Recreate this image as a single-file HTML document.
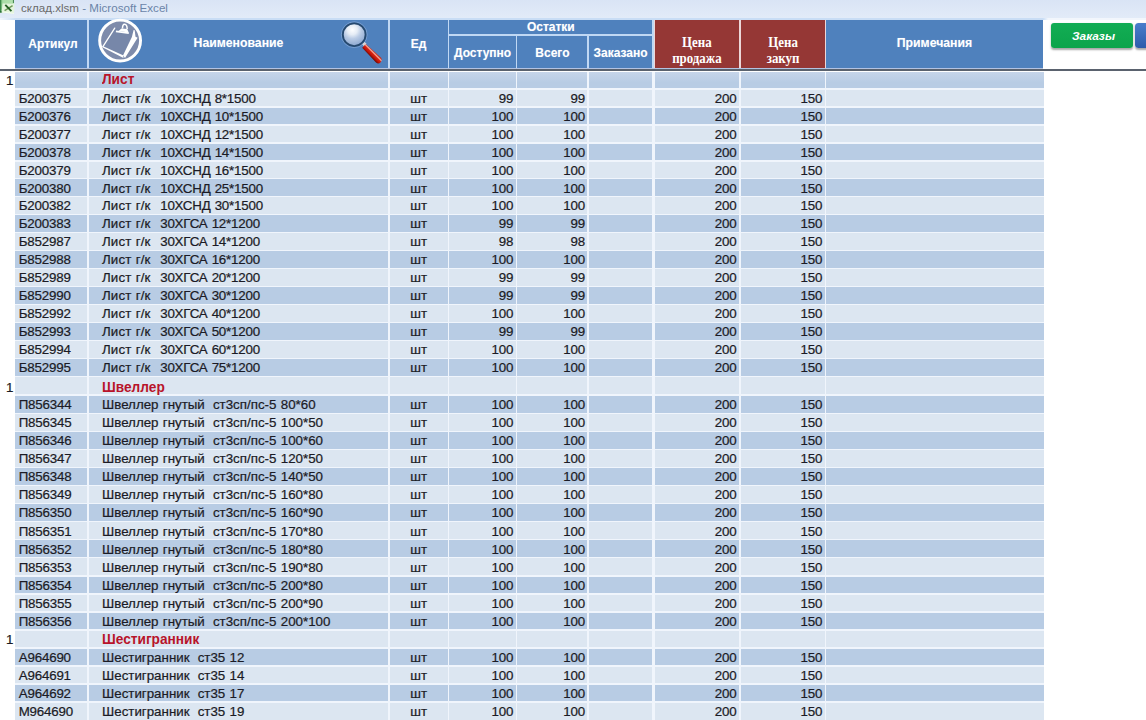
<!DOCTYPE html>
<html lang="ru"><head><meta charset="utf-8"><title>склад.xlsm - Microsoft Excel</title>
<style>
html,body{margin:0;padding:0;}
body{width:1146px;height:720px;overflow:hidden;background:#fff;position:relative;font-family:"Liberation Sans",sans-serif;}
.abs{position:absolute;}
#tb{left:0;top:0;width:1146px;height:17.5px;background:linear-gradient(#d9e4f5,#e2ebf8);}
#tbl{left:0;top:17.5px;width:1146px;height:2px;background:linear-gradient(90deg,#f4f8fd 0,#c9ddf5 16px,#c9ddf5 1043px,#f2f6fc 1048px);}
#title{left:21px;top:0;height:17px;line-height:16px;font-size:11.6px;color:#6a6a6a;white-space:pre;}
#title span{color:#6b84a8;}
.hc{background:#4f81bd;color:#fff;font-weight:bold;font-size:12px;text-align:center;text-shadow:0 0 1px rgba(255,255,255,.35);}
.hc span,.hr span{display:inline-block;transform:scaleY(1.09);}
.hr span{display:block;transform:scale(.97,1.08);transform-origin:50% 72%;}
#hbr{left:653.6px;top:19.5px;width:172.6px;height:48.5px;background:#ecd6d8;}
.hr{background:#953735;color:#fff;font-weight:bold;font-family:"Liberation Serif",serif;font-size:13.3px;text-align:center;line-height:15.2px;}
#hbg{left:15.3px;top:19.5px;width:1027.5px;height:48.5px;background:#c0d8f4;}
#dark{left:0;top:68.8px;width:1146px;height:1.9px;background:#5a626e;}
#band{left:15.3px;top:67.6px;width:1027.5px;height:1.3px;background:#b3c3e2;}
#grid{left:15.3px;top:72px;width:1028.4px;height:648px;background:#f0f5fc;}
.c{position:absolute;height:16.2px;}
.d{background:#b8cce4;}
.l{background:#dce6f1;}
.r0{background:linear-gradient(#c6d5ea,#b8cce4 65%);}
.t{position:absolute;height:18px;line-height:18px;font-size:13.33px;color:#1b1b25;white-space:pre;word-spacing:.6px;-webkit-text-stroke:.22px #1b1b25;}
.n{text-align:right;}
.q{margin-left:1.5px;}
.q2{margin-left:-.5px;}
.p1{letter-spacing:.1px;}
.q1{letter-spacing:-.2px;}
.m{text-align:center;}
.gh{-webkit-text-stroke:0;color:#b8142a;font-weight:bold;font-size:13.7px;transform:scaleY(1.04);transform-origin:50% 55%;}
.one{left:5.9px;width:8px;}
.a{left:18.7px;letter-spacing:-.17px;}
.n{letter-spacing:-.17px;}
#b1{left:1050.8px;top:22.7px;width:81.9px;height:25.1px;border-radius:3px;background:linear-gradient(#13ad54,#0ca44b);box-shadow:0 1.5px 2px rgba(0,0,0,.35);color:#fff;font-style:italic;font-weight:bold;font-size:11.8px;text-align:center;line-height:27.4px;text-indent:3.5px;}
#b2{left:1135.2px;top:22.7px;width:40px;height:25.3px;border-radius:3.5px;background:linear-gradient(#4a7ecb,#2d5cab);box-shadow:0 1.5px 2px rgba(0,0,0,.35);}
</style></head>
<body>
<div class="abs" id="tb"></div><div class="abs" id="tbl"></div>
<svg class="abs" style="left:0;top:0" width="17" height="17" viewBox="0 0 17 17">
<defs><linearGradient id="xg" x1="0" y1="0" x2="1" y2="0"><stop offset="0" stop-color="#5fae68"/><stop offset=".2" stop-color="#a8dca6"/><stop offset="1" stop-color="#b5e2b0"/></linearGradient></defs>
<rect x="0" y="0" width="14" height="12.6" fill="url(#xg)"/>
<rect x="0" y="0" width="1.2" height="12.2" fill="#3c8a4a"/>
<rect x="0" y="11.2" width="2.4" height="1.3" fill="#2a6b36"/>
<rect x="12.9" y="0" width="1" height="3" fill="#3f7f4c"/>
<path d="M2.6 3.4 L14.5 3.8 L14 13.8 L1.6 12.4 Z" fill="#e4f4dd"/>
<path d="M3 11.6 L14 13 L14 13.8 L1.6 12.4 Z" fill="#f4fbf1"/>
<path d="M12.6 5.7 L4.6 10.6" stroke="#6f9a5a" stroke-width="1.5" fill="none"/>
<path d="M5.3 4.9 L11.4 11.2" stroke="#245f23" stroke-width="1.9" fill="none"/>
</svg>
<div class="abs" id="title">склад.xlsm <span>- Microsoft Excel</span></div>
<div class="abs" id="hbg"></div><div class="abs" id="hbr"></div>
<div class="abs hc" style="left:15.3px;top:19.6px;width:72.2px;height:48.1px;line-height:48.2px;text-indent:1.6px;"><span>Артикул</span></div>
<div class="abs hc" style="left:89.2px;top:19.6px;width:298.6px;height:48.1px;line-height:47.4px;font-size:12.25px;"><span>Наименование</span></div>
<div class="abs hc" style="left:389.5px;top:19.6px;width:58.3px;height:48.1px;line-height:48.0px;"><span>Ед</span></div>
<div class="abs hc" style="left:449.4px;top:19.6px;width:202.8px;height:14.6px;line-height:15.0px;"><span>Остатки</span></div>
<div class="abs hc" style="left:449.4px;top:35.8px;width:66.4px;height:31.9px;line-height:35.2px;"><span>Доступно</span></div>
<div class="abs hc" style="left:517.4px;top:35.8px;width:70.1px;height:31.9px;line-height:35.2px;"><span>Всего</span></div>
<div class="abs hc" style="left:589px;top:35.8px;width:63.2px;height:31.9px;line-height:35.2px;"><span>Заказано</span></div>
<div class="abs hr" style="left:655px;top:19.6px;width:83.8px;height:48.1px;"><div style="padding-top:15.75px"><span>Цена</span><span>продажа</span></div></div>
<div class="abs hr" style="left:740.6px;top:19.6px;width:84.2px;height:48.1px;"><div style="padding-top:15.75px"><span>Цена</span><span>закуп</span></div></div>
<div class="abs hc" style="left:826.4px;top:19.6px;width:216.2px;height:48.1px;line-height:47.4px;font-size:12.25px;"><span>Примечания</span></div>
<svg class="abs" style="left:96px;top:17px" width="48" height="48" viewBox="0 0 48 48">
<circle cx="24.1" cy="23.6" r="20.45" fill="#7e8bab" stroke="#fff" stroke-width="2.9"/>
<path d="M18.75 11.15 L38.05 13.2 L26.7 38.9 L6.9 29.6 Z" fill="#7787a9"/>
<path d="M18.75 11.15 L6.9 29.6" fill="none" stroke="#fff" stroke-width="1.3" stroke-linecap="round"/>
<path d="M6.6 29.1 L27.0 38.3 L27.5 41 L6.9 30.4 Z" fill="#fff"/>
<path d="M37.6 13.1 L38.7 13.3 L39.5 19.8 L41.6 20.7 L29.0 41.0 L27.0 38.6 L35.9 20 Z" fill="#fff"/>
<path d="M20.0 13.5 L32.9 15.3 L32.7 17.1 L19.8 15.2 Z" fill="#fff"/>
<path d="M22.6 14.0 L25.4 11.5 L31.2 12.1 L32.7 15.4 Z" fill="#fff"/>
<path d="M26.5 11.6 Q26.4 7.2 28.7 7.3 Q31 7.4 31.2 12" fill="none" stroke="#fff" stroke-width="1.5"/>
</svg>
<svg class="abs" style="left:338px;top:18px" width="47" height="48" viewBox="0 0 47 48">
<defs>
<radialGradient id="gl" cx=".42" cy=".28" r=".72"><stop offset="0" stop-color="#fdfeff"/><stop offset=".3" stop-color="#e6edf6"/><stop offset=".55" stop-color="#b9cbe5"/><stop offset="1" stop-color="#8ba7d0"/></radialGradient>
<linearGradient id="hd" gradientUnits="userSpaceOnUse" x1="31.1" y1="37.1" x2="35.3" y2="32.9"><stop offset="0" stop-color="#760a04"/><stop offset=".3" stop-color="#bf1308"/><stop offset=".6" stop-color="#d92312"/><stop offset=".8" stop-color="#f7b3a4"/><stop offset="1" stop-color="#c9291a"/></linearGradient>
</defs>
<circle cx="16.2" cy="16.7" r="12.9" fill="none" stroke="#86a8d6" stroke-width="1" opacity=".7"/>
<path d="M24.2 26 L26.6 23.8 L28.6 26 L26 28.4 Z" fill="#d5d3d6"/>
<path d="M27.8 26.05 L42.8 39.6 A3.4 3.4 0 0 1 38.0 44.4 L24.2 29.75 Z" fill="url(#hd)"/>
<circle cx="16.2" cy="16.7" r="11.35" fill="url(#gl)" stroke="#26496f" stroke-width="1.8"/>
</svg>
<div class="abs" id="band"></div><div class="abs" id="dark"></div>
<div class="abs" id="grid"></div>
<div class="c r0" style="left:15.3px;top:72.25px;width:72.2px;height:16.2px"></div><div class="c r0" style="left:89.2px;top:72.25px;width:298.6px;height:16.2px"></div><div class="c r0" style="left:389.5px;top:72.25px;width:58.3px;height:16.2px"></div><div class="c r0" style="left:449.4px;top:72.25px;width:66.4px;height:16.2px"></div><div class="c r0" style="left:517.4px;top:72.25px;width:70.1px;height:16.2px"></div><div class="c r0" style="left:589px;top:72.25px;width:63.2px;height:16.2px"></div><div class="c r0" style="left:655px;top:72.25px;width:83.8px;height:16.2px"></div><div class="c r0" style="left:740.6px;top:72.25px;width:84.2px;height:16.2px"></div><div class="c r0" style="left:826.4px;top:72.25px;width:217.3px;height:16.2px"></div>
<div class="t one" style="top:72.20px">1</div><div class="t gh" style="left:102px;top:71.20px">Лист</div>
<div class="c l" style="left:15.3px;top:89.90px;width:72.2px;height:16.6px"></div><div class="c l" style="left:89.2px;top:89.90px;width:298.6px;height:16.6px"></div><div class="c l" style="left:389.5px;top:89.90px;width:58.3px;height:16.6px"></div><div class="c l" style="left:449.4px;top:89.90px;width:66.4px;height:16.6px"></div><div class="c l" style="left:517.4px;top:89.90px;width:70.1px;height:16.6px"></div><div class="c l" style="left:589px;top:89.90px;width:63.2px;height:16.6px"></div><div class="c l" style="left:655px;top:89.90px;width:83.8px;height:16.6px"></div><div class="c l" style="left:740.6px;top:89.90px;width:84.2px;height:16.6px"></div><div class="c l" style="left:826.4px;top:89.90px;width:217.3px;height:16.6px"></div>
<div class="t a" style="top:90.00px">Б200375</div><div class="t" style="left:102px;top:90.00px"><span class="p1">Лист г/к</span><span class="q q1">  10ХСНД 8*1500</span></div><div class="t m" style="left:389.5px;width:58.3px;top:90.00px">шт</div><div class="t n" style="left:449.4px;width:63.9px;top:90.00px">99</div><div class="t n" style="left:517.4px;width:67.6px;top:90.00px">99</div><div class="t n" style="left:655px;width:81.5px;top:90.00px">200</div><div class="t n" style="left:740.6px;width:81.7px;top:90.00px">150</div>
<div class="c d" style="left:15.3px;top:107.80px;width:72.2px;height:16.6px"></div><div class="c d" style="left:89.2px;top:107.80px;width:298.6px;height:16.6px"></div><div class="c d" style="left:389.5px;top:107.80px;width:58.3px;height:16.6px"></div><div class="c d" style="left:449.4px;top:107.80px;width:66.4px;height:16.6px"></div><div class="c d" style="left:517.4px;top:107.80px;width:70.1px;height:16.6px"></div><div class="c d" style="left:589px;top:107.80px;width:63.2px;height:16.6px"></div><div class="c d" style="left:655px;top:107.80px;width:83.8px;height:16.6px"></div><div class="c d" style="left:740.6px;top:107.80px;width:84.2px;height:16.6px"></div><div class="c d" style="left:826.4px;top:107.80px;width:217.3px;height:16.6px"></div>
<div class="t a" style="top:107.90px">Б200376</div><div class="t" style="left:102px;top:107.90px"><span class="p1">Лист г/к</span><span class="q q1">  10ХСНД 10*1500</span></div><div class="t m" style="left:389.5px;width:58.3px;top:107.90px">шт</div><div class="t n" style="left:449.4px;width:63.9px;top:107.90px">100</div><div class="t n" style="left:517.4px;width:67.6px;top:107.90px">100</div><div class="t n" style="left:655px;width:81.5px;top:107.90px">200</div><div class="t n" style="left:740.6px;width:81.7px;top:107.90px">150</div>
<div class="c l" style="left:15.3px;top:125.70px;width:72.2px;height:16.6px"></div><div class="c l" style="left:89.2px;top:125.70px;width:298.6px;height:16.6px"></div><div class="c l" style="left:389.5px;top:125.70px;width:58.3px;height:16.6px"></div><div class="c l" style="left:449.4px;top:125.70px;width:66.4px;height:16.6px"></div><div class="c l" style="left:517.4px;top:125.70px;width:70.1px;height:16.6px"></div><div class="c l" style="left:589px;top:125.70px;width:63.2px;height:16.6px"></div><div class="c l" style="left:655px;top:125.70px;width:83.8px;height:16.6px"></div><div class="c l" style="left:740.6px;top:125.70px;width:84.2px;height:16.6px"></div><div class="c l" style="left:826.4px;top:125.70px;width:217.3px;height:16.6px"></div>
<div class="t a" style="top:125.80px">Б200377</div><div class="t" style="left:102px;top:125.80px"><span class="p1">Лист г/к</span><span class="q q1">  10ХСНД 12*1500</span></div><div class="t m" style="left:389.5px;width:58.3px;top:125.80px">шт</div><div class="t n" style="left:449.4px;width:63.9px;top:125.80px">100</div><div class="t n" style="left:517.4px;width:67.6px;top:125.80px">100</div><div class="t n" style="left:655px;width:81.5px;top:125.80px">200</div><div class="t n" style="left:740.6px;width:81.7px;top:125.80px">150</div>
<div class="c d" style="left:15.3px;top:143.60px;width:72.2px;height:16.6px"></div><div class="c d" style="left:89.2px;top:143.60px;width:298.6px;height:16.6px"></div><div class="c d" style="left:389.5px;top:143.60px;width:58.3px;height:16.6px"></div><div class="c d" style="left:449.4px;top:143.60px;width:66.4px;height:16.6px"></div><div class="c d" style="left:517.4px;top:143.60px;width:70.1px;height:16.6px"></div><div class="c d" style="left:589px;top:143.60px;width:63.2px;height:16.6px"></div><div class="c d" style="left:655px;top:143.60px;width:83.8px;height:16.6px"></div><div class="c d" style="left:740.6px;top:143.60px;width:84.2px;height:16.6px"></div><div class="c d" style="left:826.4px;top:143.60px;width:217.3px;height:16.6px"></div>
<div class="t a" style="top:143.70px">Б200378</div><div class="t" style="left:102px;top:143.70px"><span class="p1">Лист г/к</span><span class="q q1">  10ХСНД 14*1500</span></div><div class="t m" style="left:389.5px;width:58.3px;top:143.70px">шт</div><div class="t n" style="left:449.4px;width:63.9px;top:143.70px">100</div><div class="t n" style="left:517.4px;width:67.6px;top:143.70px">100</div><div class="t n" style="left:655px;width:81.5px;top:143.70px">200</div><div class="t n" style="left:740.6px;width:81.7px;top:143.70px">150</div>
<div class="c l" style="left:15.3px;top:161.50px;width:72.2px;height:16.6px"></div><div class="c l" style="left:89.2px;top:161.50px;width:298.6px;height:16.6px"></div><div class="c l" style="left:389.5px;top:161.50px;width:58.3px;height:16.6px"></div><div class="c l" style="left:449.4px;top:161.50px;width:66.4px;height:16.6px"></div><div class="c l" style="left:517.4px;top:161.50px;width:70.1px;height:16.6px"></div><div class="c l" style="left:589px;top:161.50px;width:63.2px;height:16.6px"></div><div class="c l" style="left:655px;top:161.50px;width:83.8px;height:16.6px"></div><div class="c l" style="left:740.6px;top:161.50px;width:84.2px;height:16.6px"></div><div class="c l" style="left:826.4px;top:161.50px;width:217.3px;height:16.6px"></div>
<div class="t a" style="top:161.60px">Б200379</div><div class="t" style="left:102px;top:161.60px"><span class="p1">Лист г/к</span><span class="q q1">  10ХСНД 16*1500</span></div><div class="t m" style="left:389.5px;width:58.3px;top:161.60px">шт</div><div class="t n" style="left:449.4px;width:63.9px;top:161.60px">100</div><div class="t n" style="left:517.4px;width:67.6px;top:161.60px">100</div><div class="t n" style="left:655px;width:81.5px;top:161.60px">200</div><div class="t n" style="left:740.6px;width:81.7px;top:161.60px">150</div>
<div class="c d" style="left:15.3px;top:179.40px;width:72.2px;height:16.6px"></div><div class="c d" style="left:89.2px;top:179.40px;width:298.6px;height:16.6px"></div><div class="c d" style="left:389.5px;top:179.40px;width:58.3px;height:16.6px"></div><div class="c d" style="left:449.4px;top:179.40px;width:66.4px;height:16.6px"></div><div class="c d" style="left:517.4px;top:179.40px;width:70.1px;height:16.6px"></div><div class="c d" style="left:589px;top:179.40px;width:63.2px;height:16.6px"></div><div class="c d" style="left:655px;top:179.40px;width:83.8px;height:16.6px"></div><div class="c d" style="left:740.6px;top:179.40px;width:84.2px;height:16.6px"></div><div class="c d" style="left:826.4px;top:179.40px;width:217.3px;height:16.6px"></div>
<div class="t a" style="top:179.50px">Б200380</div><div class="t" style="left:102px;top:179.50px"><span class="p1">Лист г/к</span><span class="q q1">  10ХСНД 25*1500</span></div><div class="t m" style="left:389.5px;width:58.3px;top:179.50px">шт</div><div class="t n" style="left:449.4px;width:63.9px;top:179.50px">100</div><div class="t n" style="left:517.4px;width:67.6px;top:179.50px">100</div><div class="t n" style="left:655px;width:81.5px;top:179.50px">200</div><div class="t n" style="left:740.6px;width:81.7px;top:179.50px">150</div>
<div class="c l" style="left:15.3px;top:197.30px;width:72.2px;height:16.6px"></div><div class="c l" style="left:89.2px;top:197.30px;width:298.6px;height:16.6px"></div><div class="c l" style="left:389.5px;top:197.30px;width:58.3px;height:16.6px"></div><div class="c l" style="left:449.4px;top:197.30px;width:66.4px;height:16.6px"></div><div class="c l" style="left:517.4px;top:197.30px;width:70.1px;height:16.6px"></div><div class="c l" style="left:589px;top:197.30px;width:63.2px;height:16.6px"></div><div class="c l" style="left:655px;top:197.30px;width:83.8px;height:16.6px"></div><div class="c l" style="left:740.6px;top:197.30px;width:84.2px;height:16.6px"></div><div class="c l" style="left:826.4px;top:197.30px;width:217.3px;height:16.6px"></div>
<div class="t a" style="top:197.40px">Б200382</div><div class="t" style="left:102px;top:197.40px"><span class="p1">Лист г/к</span><span class="q q1">  10ХСНД 30*1500</span></div><div class="t m" style="left:389.5px;width:58.3px;top:197.40px">шт</div><div class="t n" style="left:449.4px;width:63.9px;top:197.40px">100</div><div class="t n" style="left:517.4px;width:67.6px;top:197.40px">100</div><div class="t n" style="left:655px;width:81.5px;top:197.40px">200</div><div class="t n" style="left:740.6px;width:81.7px;top:197.40px">150</div>
<div class="c d" style="left:15.3px;top:215.20px;width:72.2px;height:16.6px"></div><div class="c d" style="left:89.2px;top:215.20px;width:298.6px;height:16.6px"></div><div class="c d" style="left:389.5px;top:215.20px;width:58.3px;height:16.6px"></div><div class="c d" style="left:449.4px;top:215.20px;width:66.4px;height:16.6px"></div><div class="c d" style="left:517.4px;top:215.20px;width:70.1px;height:16.6px"></div><div class="c d" style="left:589px;top:215.20px;width:63.2px;height:16.6px"></div><div class="c d" style="left:655px;top:215.20px;width:83.8px;height:16.6px"></div><div class="c d" style="left:740.6px;top:215.20px;width:84.2px;height:16.6px"></div><div class="c d" style="left:826.4px;top:215.20px;width:217.3px;height:16.6px"></div>
<div class="t a" style="top:215.30px">Б200383</div><div class="t" style="left:102px;top:215.30px"><span class="p1">Лист г/к</span><span class="q q1">  30ХГСА 12*1200</span></div><div class="t m" style="left:389.5px;width:58.3px;top:215.30px">шт</div><div class="t n" style="left:449.4px;width:63.9px;top:215.30px">99</div><div class="t n" style="left:517.4px;width:67.6px;top:215.30px">99</div><div class="t n" style="left:655px;width:81.5px;top:215.30px">200</div><div class="t n" style="left:740.6px;width:81.7px;top:215.30px">150</div>
<div class="c l" style="left:15.3px;top:233.20px;width:72.2px;height:16.6px"></div><div class="c l" style="left:89.2px;top:233.20px;width:298.6px;height:16.6px"></div><div class="c l" style="left:389.5px;top:233.20px;width:58.3px;height:16.6px"></div><div class="c l" style="left:449.4px;top:233.20px;width:66.4px;height:16.6px"></div><div class="c l" style="left:517.4px;top:233.20px;width:70.1px;height:16.6px"></div><div class="c l" style="left:589px;top:233.20px;width:63.2px;height:16.6px"></div><div class="c l" style="left:655px;top:233.20px;width:83.8px;height:16.6px"></div><div class="c l" style="left:740.6px;top:233.20px;width:84.2px;height:16.6px"></div><div class="c l" style="left:826.4px;top:233.20px;width:217.3px;height:16.6px"></div>
<div class="t a" style="top:233.30px">Б852987</div><div class="t" style="left:102px;top:233.30px"><span class="p1">Лист г/к</span><span class="q q1">  30ХГСА 14*1200</span></div><div class="t m" style="left:389.5px;width:58.3px;top:233.30px">шт</div><div class="t n" style="left:449.4px;width:63.9px;top:233.30px">98</div><div class="t n" style="left:517.4px;width:67.6px;top:233.30px">98</div><div class="t n" style="left:655px;width:81.5px;top:233.30px">200</div><div class="t n" style="left:740.6px;width:81.7px;top:233.30px">150</div>
<div class="c d" style="left:15.3px;top:251.20px;width:72.2px;height:16.6px"></div><div class="c d" style="left:89.2px;top:251.20px;width:298.6px;height:16.6px"></div><div class="c d" style="left:389.5px;top:251.20px;width:58.3px;height:16.6px"></div><div class="c d" style="left:449.4px;top:251.20px;width:66.4px;height:16.6px"></div><div class="c d" style="left:517.4px;top:251.20px;width:70.1px;height:16.6px"></div><div class="c d" style="left:589px;top:251.20px;width:63.2px;height:16.6px"></div><div class="c d" style="left:655px;top:251.20px;width:83.8px;height:16.6px"></div><div class="c d" style="left:740.6px;top:251.20px;width:84.2px;height:16.6px"></div><div class="c d" style="left:826.4px;top:251.20px;width:217.3px;height:16.6px"></div>
<div class="t a" style="top:251.30px">Б852988</div><div class="t" style="left:102px;top:251.30px"><span class="p1">Лист г/к</span><span class="q q1">  30ХГСА 16*1200</span></div><div class="t m" style="left:389.5px;width:58.3px;top:251.30px">шт</div><div class="t n" style="left:449.4px;width:63.9px;top:251.30px">100</div><div class="t n" style="left:517.4px;width:67.6px;top:251.30px">100</div><div class="t n" style="left:655px;width:81.5px;top:251.30px">200</div><div class="t n" style="left:740.6px;width:81.7px;top:251.30px">150</div>
<div class="c l" style="left:15.3px;top:269.20px;width:72.2px;height:16.6px"></div><div class="c l" style="left:89.2px;top:269.20px;width:298.6px;height:16.6px"></div><div class="c l" style="left:389.5px;top:269.20px;width:58.3px;height:16.6px"></div><div class="c l" style="left:449.4px;top:269.20px;width:66.4px;height:16.6px"></div><div class="c l" style="left:517.4px;top:269.20px;width:70.1px;height:16.6px"></div><div class="c l" style="left:589px;top:269.20px;width:63.2px;height:16.6px"></div><div class="c l" style="left:655px;top:269.20px;width:83.8px;height:16.6px"></div><div class="c l" style="left:740.6px;top:269.20px;width:84.2px;height:16.6px"></div><div class="c l" style="left:826.4px;top:269.20px;width:217.3px;height:16.6px"></div>
<div class="t a" style="top:269.30px">Б852989</div><div class="t" style="left:102px;top:269.30px"><span class="p1">Лист г/к</span><span class="q q1">  30ХГСА 20*1200</span></div><div class="t m" style="left:389.5px;width:58.3px;top:269.30px">шт</div><div class="t n" style="left:449.4px;width:63.9px;top:269.30px">99</div><div class="t n" style="left:517.4px;width:67.6px;top:269.30px">99</div><div class="t n" style="left:655px;width:81.5px;top:269.30px">200</div><div class="t n" style="left:740.6px;width:81.7px;top:269.30px">150</div>
<div class="c d" style="left:15.3px;top:287.20px;width:72.2px;height:16.6px"></div><div class="c d" style="left:89.2px;top:287.20px;width:298.6px;height:16.6px"></div><div class="c d" style="left:389.5px;top:287.20px;width:58.3px;height:16.6px"></div><div class="c d" style="left:449.4px;top:287.20px;width:66.4px;height:16.6px"></div><div class="c d" style="left:517.4px;top:287.20px;width:70.1px;height:16.6px"></div><div class="c d" style="left:589px;top:287.20px;width:63.2px;height:16.6px"></div><div class="c d" style="left:655px;top:287.20px;width:83.8px;height:16.6px"></div><div class="c d" style="left:740.6px;top:287.20px;width:84.2px;height:16.6px"></div><div class="c d" style="left:826.4px;top:287.20px;width:217.3px;height:16.6px"></div>
<div class="t a" style="top:287.30px">Б852990</div><div class="t" style="left:102px;top:287.30px"><span class="p1">Лист г/к</span><span class="q q1">  30ХГСА 30*1200</span></div><div class="t m" style="left:389.5px;width:58.3px;top:287.30px">шт</div><div class="t n" style="left:449.4px;width:63.9px;top:287.30px">99</div><div class="t n" style="left:517.4px;width:67.6px;top:287.30px">99</div><div class="t n" style="left:655px;width:81.5px;top:287.30px">200</div><div class="t n" style="left:740.6px;width:81.7px;top:287.30px">150</div>
<div class="c l" style="left:15.3px;top:305.20px;width:72.2px;height:16.6px"></div><div class="c l" style="left:89.2px;top:305.20px;width:298.6px;height:16.6px"></div><div class="c l" style="left:389.5px;top:305.20px;width:58.3px;height:16.6px"></div><div class="c l" style="left:449.4px;top:305.20px;width:66.4px;height:16.6px"></div><div class="c l" style="left:517.4px;top:305.20px;width:70.1px;height:16.6px"></div><div class="c l" style="left:589px;top:305.20px;width:63.2px;height:16.6px"></div><div class="c l" style="left:655px;top:305.20px;width:83.8px;height:16.6px"></div><div class="c l" style="left:740.6px;top:305.20px;width:84.2px;height:16.6px"></div><div class="c l" style="left:826.4px;top:305.20px;width:217.3px;height:16.6px"></div>
<div class="t a" style="top:305.30px">Б852992</div><div class="t" style="left:102px;top:305.30px"><span class="p1">Лист г/к</span><span class="q q1">  30ХГСА 40*1200</span></div><div class="t m" style="left:389.5px;width:58.3px;top:305.30px">шт</div><div class="t n" style="left:449.4px;width:63.9px;top:305.30px">100</div><div class="t n" style="left:517.4px;width:67.6px;top:305.30px">100</div><div class="t n" style="left:655px;width:81.5px;top:305.30px">200</div><div class="t n" style="left:740.6px;width:81.7px;top:305.30px">150</div>
<div class="c d" style="left:15.3px;top:323.20px;width:72.2px;height:16.6px"></div><div class="c d" style="left:89.2px;top:323.20px;width:298.6px;height:16.6px"></div><div class="c d" style="left:389.5px;top:323.20px;width:58.3px;height:16.6px"></div><div class="c d" style="left:449.4px;top:323.20px;width:66.4px;height:16.6px"></div><div class="c d" style="left:517.4px;top:323.20px;width:70.1px;height:16.6px"></div><div class="c d" style="left:589px;top:323.20px;width:63.2px;height:16.6px"></div><div class="c d" style="left:655px;top:323.20px;width:83.8px;height:16.6px"></div><div class="c d" style="left:740.6px;top:323.20px;width:84.2px;height:16.6px"></div><div class="c d" style="left:826.4px;top:323.20px;width:217.3px;height:16.6px"></div>
<div class="t a" style="top:323.30px">Б852993</div><div class="t" style="left:102px;top:323.30px"><span class="p1">Лист г/к</span><span class="q q1">  30ХГСА 50*1200</span></div><div class="t m" style="left:389.5px;width:58.3px;top:323.30px">шт</div><div class="t n" style="left:449.4px;width:63.9px;top:323.30px">99</div><div class="t n" style="left:517.4px;width:67.6px;top:323.30px">99</div><div class="t n" style="left:655px;width:81.5px;top:323.30px">200</div><div class="t n" style="left:740.6px;width:81.7px;top:323.30px">150</div>
<div class="c l" style="left:15.3px;top:341.20px;width:72.2px;height:16.6px"></div><div class="c l" style="left:89.2px;top:341.20px;width:298.6px;height:16.6px"></div><div class="c l" style="left:389.5px;top:341.20px;width:58.3px;height:16.6px"></div><div class="c l" style="left:449.4px;top:341.20px;width:66.4px;height:16.6px"></div><div class="c l" style="left:517.4px;top:341.20px;width:70.1px;height:16.6px"></div><div class="c l" style="left:589px;top:341.20px;width:63.2px;height:16.6px"></div><div class="c l" style="left:655px;top:341.20px;width:83.8px;height:16.6px"></div><div class="c l" style="left:740.6px;top:341.20px;width:84.2px;height:16.6px"></div><div class="c l" style="left:826.4px;top:341.20px;width:217.3px;height:16.6px"></div>
<div class="t a" style="top:341.30px">Б852994</div><div class="t" style="left:102px;top:341.30px"><span class="p1">Лист г/к</span><span class="q q1">  30ХГСА 60*1200</span></div><div class="t m" style="left:389.5px;width:58.3px;top:341.30px">шт</div><div class="t n" style="left:449.4px;width:63.9px;top:341.30px">100</div><div class="t n" style="left:517.4px;width:67.6px;top:341.30px">100</div><div class="t n" style="left:655px;width:81.5px;top:341.30px">200</div><div class="t n" style="left:740.6px;width:81.7px;top:341.30px">150</div>
<div class="c d" style="left:15.3px;top:359.20px;width:72.2px;height:16.6px"></div><div class="c d" style="left:89.2px;top:359.20px;width:298.6px;height:16.6px"></div><div class="c d" style="left:389.5px;top:359.20px;width:58.3px;height:16.6px"></div><div class="c d" style="left:449.4px;top:359.20px;width:66.4px;height:16.6px"></div><div class="c d" style="left:517.4px;top:359.20px;width:70.1px;height:16.6px"></div><div class="c d" style="left:589px;top:359.20px;width:63.2px;height:16.6px"></div><div class="c d" style="left:655px;top:359.20px;width:83.8px;height:16.6px"></div><div class="c d" style="left:740.6px;top:359.20px;width:84.2px;height:16.6px"></div><div class="c d" style="left:826.4px;top:359.20px;width:217.3px;height:16.6px"></div>
<div class="t a" style="top:359.30px">Б852995</div><div class="t" style="left:102px;top:359.30px"><span class="p1">Лист г/к</span><span class="q q1">  30ХГСА 75*1200</span></div><div class="t m" style="left:389.5px;width:58.3px;top:359.30px">шт</div><div class="t n" style="left:449.4px;width:63.9px;top:359.30px">100</div><div class="t n" style="left:517.4px;width:67.6px;top:359.30px">100</div><div class="t n" style="left:655px;width:81.5px;top:359.30px">200</div><div class="t n" style="left:740.6px;width:81.7px;top:359.30px">150</div>
<div class="c l" style="left:15.3px;top:377.20px;width:72.2px;height:17.3px"></div><div class="c l" style="left:89.2px;top:377.20px;width:298.6px;height:17.3px"></div><div class="c l" style="left:389.5px;top:377.20px;width:58.3px;height:17.3px"></div><div class="c l" style="left:449.4px;top:377.20px;width:66.4px;height:17.3px"></div><div class="c l" style="left:517.4px;top:377.20px;width:70.1px;height:17.3px"></div><div class="c l" style="left:589px;top:377.20px;width:63.2px;height:17.3px"></div><div class="c l" style="left:655px;top:377.20px;width:83.8px;height:17.3px"></div><div class="c l" style="left:740.6px;top:377.20px;width:84.2px;height:17.3px"></div><div class="c l" style="left:826.4px;top:377.20px;width:217.3px;height:17.3px"></div>
<div class="t one" style="top:378.50px">1</div><div class="t gh" style="left:102px;top:378.70px">Швеллер</div>
<div class="c d" style="left:15.3px;top:396.20px;width:72.2px;height:16.6px"></div><div class="c d" style="left:89.2px;top:396.20px;width:298.6px;height:16.6px"></div><div class="c d" style="left:389.5px;top:396.20px;width:58.3px;height:16.6px"></div><div class="c d" style="left:449.4px;top:396.20px;width:66.4px;height:16.6px"></div><div class="c d" style="left:517.4px;top:396.20px;width:70.1px;height:16.6px"></div><div class="c d" style="left:589px;top:396.20px;width:63.2px;height:16.6px"></div><div class="c d" style="left:655px;top:396.20px;width:83.8px;height:16.6px"></div><div class="c d" style="left:740.6px;top:396.20px;width:84.2px;height:16.6px"></div><div class="c d" style="left:826.4px;top:396.20px;width:217.3px;height:16.6px"></div>
<div class="t a" style="top:396.30px">П856344</div><div class="t" style="left:102px;top:396.30px"><span>Швеллер гнутый</span><span class="q2">  ст3сп/пс-5 80*60</span></div><div class="t m" style="left:389.5px;width:58.3px;top:396.30px">шт</div><div class="t n" style="left:449.4px;width:63.9px;top:396.30px">100</div><div class="t n" style="left:517.4px;width:67.6px;top:396.30px">100</div><div class="t n" style="left:655px;width:81.5px;top:396.30px">200</div><div class="t n" style="left:740.6px;width:81.7px;top:396.30px">150</div>
<div class="c l" style="left:15.3px;top:414.23px;width:72.2px;height:16.6px"></div><div class="c l" style="left:89.2px;top:414.23px;width:298.6px;height:16.6px"></div><div class="c l" style="left:389.5px;top:414.23px;width:58.3px;height:16.6px"></div><div class="c l" style="left:449.4px;top:414.23px;width:66.4px;height:16.6px"></div><div class="c l" style="left:517.4px;top:414.23px;width:70.1px;height:16.6px"></div><div class="c l" style="left:589px;top:414.23px;width:63.2px;height:16.6px"></div><div class="c l" style="left:655px;top:414.23px;width:83.8px;height:16.6px"></div><div class="c l" style="left:740.6px;top:414.23px;width:84.2px;height:16.6px"></div><div class="c l" style="left:826.4px;top:414.23px;width:217.3px;height:16.6px"></div>
<div class="t a" style="top:414.33px">П856345</div><div class="t" style="left:102px;top:414.33px"><span>Швеллер гнутый</span><span class="q2">  ст3сп/пс-5 100*50</span></div><div class="t m" style="left:389.5px;width:58.3px;top:414.33px">шт</div><div class="t n" style="left:449.4px;width:63.9px;top:414.33px">100</div><div class="t n" style="left:517.4px;width:67.6px;top:414.33px">100</div><div class="t n" style="left:655px;width:81.5px;top:414.33px">200</div><div class="t n" style="left:740.6px;width:81.7px;top:414.33px">150</div>
<div class="c d" style="left:15.3px;top:432.26px;width:72.2px;height:16.6px"></div><div class="c d" style="left:89.2px;top:432.26px;width:298.6px;height:16.6px"></div><div class="c d" style="left:389.5px;top:432.26px;width:58.3px;height:16.6px"></div><div class="c d" style="left:449.4px;top:432.26px;width:66.4px;height:16.6px"></div><div class="c d" style="left:517.4px;top:432.26px;width:70.1px;height:16.6px"></div><div class="c d" style="left:589px;top:432.26px;width:63.2px;height:16.6px"></div><div class="c d" style="left:655px;top:432.26px;width:83.8px;height:16.6px"></div><div class="c d" style="left:740.6px;top:432.26px;width:84.2px;height:16.6px"></div><div class="c d" style="left:826.4px;top:432.26px;width:217.3px;height:16.6px"></div>
<div class="t a" style="top:432.36px">П856346</div><div class="t" style="left:102px;top:432.36px"><span>Швеллер гнутый</span><span class="q2">  ст3сп/пс-5 100*60</span></div><div class="t m" style="left:389.5px;width:58.3px;top:432.36px">шт</div><div class="t n" style="left:449.4px;width:63.9px;top:432.36px">100</div><div class="t n" style="left:517.4px;width:67.6px;top:432.36px">100</div><div class="t n" style="left:655px;width:81.5px;top:432.36px">200</div><div class="t n" style="left:740.6px;width:81.7px;top:432.36px">150</div>
<div class="c l" style="left:15.3px;top:450.29px;width:72.2px;height:16.6px"></div><div class="c l" style="left:89.2px;top:450.29px;width:298.6px;height:16.6px"></div><div class="c l" style="left:389.5px;top:450.29px;width:58.3px;height:16.6px"></div><div class="c l" style="left:449.4px;top:450.29px;width:66.4px;height:16.6px"></div><div class="c l" style="left:517.4px;top:450.29px;width:70.1px;height:16.6px"></div><div class="c l" style="left:589px;top:450.29px;width:63.2px;height:16.6px"></div><div class="c l" style="left:655px;top:450.29px;width:83.8px;height:16.6px"></div><div class="c l" style="left:740.6px;top:450.29px;width:84.2px;height:16.6px"></div><div class="c l" style="left:826.4px;top:450.29px;width:217.3px;height:16.6px"></div>
<div class="t a" style="top:450.39px">П856347</div><div class="t" style="left:102px;top:450.39px"><span>Швеллер гнутый</span><span class="q2">  ст3сп/пс-5 120*50</span></div><div class="t m" style="left:389.5px;width:58.3px;top:450.39px">шт</div><div class="t n" style="left:449.4px;width:63.9px;top:450.39px">100</div><div class="t n" style="left:517.4px;width:67.6px;top:450.39px">100</div><div class="t n" style="left:655px;width:81.5px;top:450.39px">200</div><div class="t n" style="left:740.6px;width:81.7px;top:450.39px">150</div>
<div class="c d" style="left:15.3px;top:468.32px;width:72.2px;height:16.6px"></div><div class="c d" style="left:89.2px;top:468.32px;width:298.6px;height:16.6px"></div><div class="c d" style="left:389.5px;top:468.32px;width:58.3px;height:16.6px"></div><div class="c d" style="left:449.4px;top:468.32px;width:66.4px;height:16.6px"></div><div class="c d" style="left:517.4px;top:468.32px;width:70.1px;height:16.6px"></div><div class="c d" style="left:589px;top:468.32px;width:63.2px;height:16.6px"></div><div class="c d" style="left:655px;top:468.32px;width:83.8px;height:16.6px"></div><div class="c d" style="left:740.6px;top:468.32px;width:84.2px;height:16.6px"></div><div class="c d" style="left:826.4px;top:468.32px;width:217.3px;height:16.6px"></div>
<div class="t a" style="top:468.42px">П856348</div><div class="t" style="left:102px;top:468.42px"><span>Швеллер гнутый</span><span class="q2">  ст3сп/пс-5 140*50</span></div><div class="t m" style="left:389.5px;width:58.3px;top:468.42px">шт</div><div class="t n" style="left:449.4px;width:63.9px;top:468.42px">100</div><div class="t n" style="left:517.4px;width:67.6px;top:468.42px">100</div><div class="t n" style="left:655px;width:81.5px;top:468.42px">200</div><div class="t n" style="left:740.6px;width:81.7px;top:468.42px">150</div>
<div class="c l" style="left:15.3px;top:486.35px;width:72.2px;height:16.6px"></div><div class="c l" style="left:89.2px;top:486.35px;width:298.6px;height:16.6px"></div><div class="c l" style="left:389.5px;top:486.35px;width:58.3px;height:16.6px"></div><div class="c l" style="left:449.4px;top:486.35px;width:66.4px;height:16.6px"></div><div class="c l" style="left:517.4px;top:486.35px;width:70.1px;height:16.6px"></div><div class="c l" style="left:589px;top:486.35px;width:63.2px;height:16.6px"></div><div class="c l" style="left:655px;top:486.35px;width:83.8px;height:16.6px"></div><div class="c l" style="left:740.6px;top:486.35px;width:84.2px;height:16.6px"></div><div class="c l" style="left:826.4px;top:486.35px;width:217.3px;height:16.6px"></div>
<div class="t a" style="top:486.45px">П856349</div><div class="t" style="left:102px;top:486.45px"><span>Швеллер гнутый</span><span class="q2">  ст3сп/пс-5 160*80</span></div><div class="t m" style="left:389.5px;width:58.3px;top:486.45px">шт</div><div class="t n" style="left:449.4px;width:63.9px;top:486.45px">100</div><div class="t n" style="left:517.4px;width:67.6px;top:486.45px">100</div><div class="t n" style="left:655px;width:81.5px;top:486.45px">200</div><div class="t n" style="left:740.6px;width:81.7px;top:486.45px">150</div>
<div class="c d" style="left:15.3px;top:504.38px;width:72.2px;height:16.6px"></div><div class="c d" style="left:89.2px;top:504.38px;width:298.6px;height:16.6px"></div><div class="c d" style="left:389.5px;top:504.38px;width:58.3px;height:16.6px"></div><div class="c d" style="left:449.4px;top:504.38px;width:66.4px;height:16.6px"></div><div class="c d" style="left:517.4px;top:504.38px;width:70.1px;height:16.6px"></div><div class="c d" style="left:589px;top:504.38px;width:63.2px;height:16.6px"></div><div class="c d" style="left:655px;top:504.38px;width:83.8px;height:16.6px"></div><div class="c d" style="left:740.6px;top:504.38px;width:84.2px;height:16.6px"></div><div class="c d" style="left:826.4px;top:504.38px;width:217.3px;height:16.6px"></div>
<div class="t a" style="top:504.48px">П856350</div><div class="t" style="left:102px;top:504.48px"><span>Швеллер гнутый</span><span class="q2">  ст3сп/пс-5 160*90</span></div><div class="t m" style="left:389.5px;width:58.3px;top:504.48px">шт</div><div class="t n" style="left:449.4px;width:63.9px;top:504.48px">100</div><div class="t n" style="left:517.4px;width:67.6px;top:504.48px">100</div><div class="t n" style="left:655px;width:81.5px;top:504.48px">200</div><div class="t n" style="left:740.6px;width:81.7px;top:504.48px">150</div>
<div class="c l" style="left:15.3px;top:522.41px;width:72.2px;height:16.6px"></div><div class="c l" style="left:89.2px;top:522.41px;width:298.6px;height:16.6px"></div><div class="c l" style="left:389.5px;top:522.41px;width:58.3px;height:16.6px"></div><div class="c l" style="left:449.4px;top:522.41px;width:66.4px;height:16.6px"></div><div class="c l" style="left:517.4px;top:522.41px;width:70.1px;height:16.6px"></div><div class="c l" style="left:589px;top:522.41px;width:63.2px;height:16.6px"></div><div class="c l" style="left:655px;top:522.41px;width:83.8px;height:16.6px"></div><div class="c l" style="left:740.6px;top:522.41px;width:84.2px;height:16.6px"></div><div class="c l" style="left:826.4px;top:522.41px;width:217.3px;height:16.6px"></div>
<div class="t a" style="top:522.51px">П856351</div><div class="t" style="left:102px;top:522.51px"><span>Швеллер гнутый</span><span class="q2">  ст3сп/пс-5 170*80</span></div><div class="t m" style="left:389.5px;width:58.3px;top:522.51px">шт</div><div class="t n" style="left:449.4px;width:63.9px;top:522.51px">100</div><div class="t n" style="left:517.4px;width:67.6px;top:522.51px">100</div><div class="t n" style="left:655px;width:81.5px;top:522.51px">200</div><div class="t n" style="left:740.6px;width:81.7px;top:522.51px">150</div>
<div class="c d" style="left:15.3px;top:540.44px;width:72.2px;height:16.6px"></div><div class="c d" style="left:89.2px;top:540.44px;width:298.6px;height:16.6px"></div><div class="c d" style="left:389.5px;top:540.44px;width:58.3px;height:16.6px"></div><div class="c d" style="left:449.4px;top:540.44px;width:66.4px;height:16.6px"></div><div class="c d" style="left:517.4px;top:540.44px;width:70.1px;height:16.6px"></div><div class="c d" style="left:589px;top:540.44px;width:63.2px;height:16.6px"></div><div class="c d" style="left:655px;top:540.44px;width:83.8px;height:16.6px"></div><div class="c d" style="left:740.6px;top:540.44px;width:84.2px;height:16.6px"></div><div class="c d" style="left:826.4px;top:540.44px;width:217.3px;height:16.6px"></div>
<div class="t a" style="top:540.54px">П856352</div><div class="t" style="left:102px;top:540.54px"><span>Швеллер гнутый</span><span class="q2">  ст3сп/пс-5 180*80</span></div><div class="t m" style="left:389.5px;width:58.3px;top:540.54px">шт</div><div class="t n" style="left:449.4px;width:63.9px;top:540.54px">100</div><div class="t n" style="left:517.4px;width:67.6px;top:540.54px">100</div><div class="t n" style="left:655px;width:81.5px;top:540.54px">200</div><div class="t n" style="left:740.6px;width:81.7px;top:540.54px">150</div>
<div class="c l" style="left:15.3px;top:558.47px;width:72.2px;height:16.6px"></div><div class="c l" style="left:89.2px;top:558.47px;width:298.6px;height:16.6px"></div><div class="c l" style="left:389.5px;top:558.47px;width:58.3px;height:16.6px"></div><div class="c l" style="left:449.4px;top:558.47px;width:66.4px;height:16.6px"></div><div class="c l" style="left:517.4px;top:558.47px;width:70.1px;height:16.6px"></div><div class="c l" style="left:589px;top:558.47px;width:63.2px;height:16.6px"></div><div class="c l" style="left:655px;top:558.47px;width:83.8px;height:16.6px"></div><div class="c l" style="left:740.6px;top:558.47px;width:84.2px;height:16.6px"></div><div class="c l" style="left:826.4px;top:558.47px;width:217.3px;height:16.6px"></div>
<div class="t a" style="top:558.57px">П856353</div><div class="t" style="left:102px;top:558.57px"><span>Швеллер гнутый</span><span class="q2">  ст3сп/пс-5 190*80</span></div><div class="t m" style="left:389.5px;width:58.3px;top:558.57px">шт</div><div class="t n" style="left:449.4px;width:63.9px;top:558.57px">100</div><div class="t n" style="left:517.4px;width:67.6px;top:558.57px">100</div><div class="t n" style="left:655px;width:81.5px;top:558.57px">200</div><div class="t n" style="left:740.6px;width:81.7px;top:558.57px">150</div>
<div class="c d" style="left:15.3px;top:576.50px;width:72.2px;height:16.6px"></div><div class="c d" style="left:89.2px;top:576.50px;width:298.6px;height:16.6px"></div><div class="c d" style="left:389.5px;top:576.50px;width:58.3px;height:16.6px"></div><div class="c d" style="left:449.4px;top:576.50px;width:66.4px;height:16.6px"></div><div class="c d" style="left:517.4px;top:576.50px;width:70.1px;height:16.6px"></div><div class="c d" style="left:589px;top:576.50px;width:63.2px;height:16.6px"></div><div class="c d" style="left:655px;top:576.50px;width:83.8px;height:16.6px"></div><div class="c d" style="left:740.6px;top:576.50px;width:84.2px;height:16.6px"></div><div class="c d" style="left:826.4px;top:576.50px;width:217.3px;height:16.6px"></div>
<div class="t a" style="top:576.60px">П856354</div><div class="t" style="left:102px;top:576.60px"><span>Швеллер гнутый</span><span class="q2">  ст3сп/пс-5 200*80</span></div><div class="t m" style="left:389.5px;width:58.3px;top:576.60px">шт</div><div class="t n" style="left:449.4px;width:63.9px;top:576.60px">100</div><div class="t n" style="left:517.4px;width:67.6px;top:576.60px">100</div><div class="t n" style="left:655px;width:81.5px;top:576.60px">200</div><div class="t n" style="left:740.6px;width:81.7px;top:576.60px">150</div>
<div class="c l" style="left:15.3px;top:594.53px;width:72.2px;height:16.6px"></div><div class="c l" style="left:89.2px;top:594.53px;width:298.6px;height:16.6px"></div><div class="c l" style="left:389.5px;top:594.53px;width:58.3px;height:16.6px"></div><div class="c l" style="left:449.4px;top:594.53px;width:66.4px;height:16.6px"></div><div class="c l" style="left:517.4px;top:594.53px;width:70.1px;height:16.6px"></div><div class="c l" style="left:589px;top:594.53px;width:63.2px;height:16.6px"></div><div class="c l" style="left:655px;top:594.53px;width:83.8px;height:16.6px"></div><div class="c l" style="left:740.6px;top:594.53px;width:84.2px;height:16.6px"></div><div class="c l" style="left:826.4px;top:594.53px;width:217.3px;height:16.6px"></div>
<div class="t a" style="top:594.63px">П856355</div><div class="t" style="left:102px;top:594.63px"><span>Швеллер гнутый</span><span class="q2">  ст3сп/пс-5 200*90</span></div><div class="t m" style="left:389.5px;width:58.3px;top:594.63px">шт</div><div class="t n" style="left:449.4px;width:63.9px;top:594.63px">100</div><div class="t n" style="left:517.4px;width:67.6px;top:594.63px">100</div><div class="t n" style="left:655px;width:81.5px;top:594.63px">200</div><div class="t n" style="left:740.6px;width:81.7px;top:594.63px">150</div>
<div class="c d" style="left:15.3px;top:612.56px;width:72.2px;height:16.6px"></div><div class="c d" style="left:89.2px;top:612.56px;width:298.6px;height:16.6px"></div><div class="c d" style="left:389.5px;top:612.56px;width:58.3px;height:16.6px"></div><div class="c d" style="left:449.4px;top:612.56px;width:66.4px;height:16.6px"></div><div class="c d" style="left:517.4px;top:612.56px;width:70.1px;height:16.6px"></div><div class="c d" style="left:589px;top:612.56px;width:63.2px;height:16.6px"></div><div class="c d" style="left:655px;top:612.56px;width:83.8px;height:16.6px"></div><div class="c d" style="left:740.6px;top:612.56px;width:84.2px;height:16.6px"></div><div class="c d" style="left:826.4px;top:612.56px;width:217.3px;height:16.6px"></div>
<div class="t a" style="top:612.66px">П856356</div><div class="t" style="left:102px;top:612.66px"><span>Швеллер гнутый</span><span class="q2">  ст3сп/пс-5 200*100</span></div><div class="t m" style="left:389.5px;width:58.3px;top:612.66px">шт</div><div class="t n" style="left:449.4px;width:63.9px;top:612.66px">100</div><div class="t n" style="left:517.4px;width:67.6px;top:612.66px">100</div><div class="t n" style="left:655px;width:81.5px;top:612.66px">200</div><div class="t n" style="left:740.6px;width:81.7px;top:612.66px">150</div>
<div class="c l" style="left:15.3px;top:630.59px;width:72.2px;height:16.6px"></div><div class="c l" style="left:89.2px;top:630.59px;width:298.6px;height:16.6px"></div><div class="c l" style="left:389.5px;top:630.59px;width:58.3px;height:16.6px"></div><div class="c l" style="left:449.4px;top:630.59px;width:66.4px;height:16.6px"></div><div class="c l" style="left:517.4px;top:630.59px;width:70.1px;height:16.6px"></div><div class="c l" style="left:589px;top:630.59px;width:63.2px;height:16.6px"></div><div class="c l" style="left:655px;top:630.59px;width:83.8px;height:16.6px"></div><div class="c l" style="left:740.6px;top:630.59px;width:84.2px;height:16.6px"></div><div class="c l" style="left:826.4px;top:630.59px;width:217.3px;height:16.6px"></div>
<div class="t one" style="top:631.49px">1</div><div class="t gh" style="left:102px;top:631.19px">Шестигранник</div>
<div class="c d" style="left:15.3px;top:648.62px;width:72.2px;height:16.6px"></div><div class="c d" style="left:89.2px;top:648.62px;width:298.6px;height:16.6px"></div><div class="c d" style="left:389.5px;top:648.62px;width:58.3px;height:16.6px"></div><div class="c d" style="left:449.4px;top:648.62px;width:66.4px;height:16.6px"></div><div class="c d" style="left:517.4px;top:648.62px;width:70.1px;height:16.6px"></div><div class="c d" style="left:589px;top:648.62px;width:63.2px;height:16.6px"></div><div class="c d" style="left:655px;top:648.62px;width:83.8px;height:16.6px"></div><div class="c d" style="left:740.6px;top:648.62px;width:84.2px;height:16.6px"></div><div class="c d" style="left:826.4px;top:648.62px;width:217.3px;height:16.6px"></div>
<div class="t a" style="top:648.72px">А964690</div><div class="t" style="left:102px;top:648.72px"><span>Шестигранник</span><span class="q2">  ст35 12</span></div><div class="t m" style="left:389.5px;width:58.3px;top:648.72px">шт</div><div class="t n" style="left:449.4px;width:63.9px;top:648.72px">100</div><div class="t n" style="left:517.4px;width:67.6px;top:648.72px">100</div><div class="t n" style="left:655px;width:81.5px;top:648.72px">200</div><div class="t n" style="left:740.6px;width:81.7px;top:648.72px">150</div>
<div class="c l" style="left:15.3px;top:666.65px;width:72.2px;height:16.6px"></div><div class="c l" style="left:89.2px;top:666.65px;width:298.6px;height:16.6px"></div><div class="c l" style="left:389.5px;top:666.65px;width:58.3px;height:16.6px"></div><div class="c l" style="left:449.4px;top:666.65px;width:66.4px;height:16.6px"></div><div class="c l" style="left:517.4px;top:666.65px;width:70.1px;height:16.6px"></div><div class="c l" style="left:589px;top:666.65px;width:63.2px;height:16.6px"></div><div class="c l" style="left:655px;top:666.65px;width:83.8px;height:16.6px"></div><div class="c l" style="left:740.6px;top:666.65px;width:84.2px;height:16.6px"></div><div class="c l" style="left:826.4px;top:666.65px;width:217.3px;height:16.6px"></div>
<div class="t a" style="top:666.75px">А964691</div><div class="t" style="left:102px;top:666.75px"><span>Шестигранник</span><span class="q2">  ст35 14</span></div><div class="t m" style="left:389.5px;width:58.3px;top:666.75px">шт</div><div class="t n" style="left:449.4px;width:63.9px;top:666.75px">100</div><div class="t n" style="left:517.4px;width:67.6px;top:666.75px">100</div><div class="t n" style="left:655px;width:81.5px;top:666.75px">200</div><div class="t n" style="left:740.6px;width:81.7px;top:666.75px">150</div>
<div class="c d" style="left:15.3px;top:684.68px;width:72.2px;height:16.6px"></div><div class="c d" style="left:89.2px;top:684.68px;width:298.6px;height:16.6px"></div><div class="c d" style="left:389.5px;top:684.68px;width:58.3px;height:16.6px"></div><div class="c d" style="left:449.4px;top:684.68px;width:66.4px;height:16.6px"></div><div class="c d" style="left:517.4px;top:684.68px;width:70.1px;height:16.6px"></div><div class="c d" style="left:589px;top:684.68px;width:63.2px;height:16.6px"></div><div class="c d" style="left:655px;top:684.68px;width:83.8px;height:16.6px"></div><div class="c d" style="left:740.6px;top:684.68px;width:84.2px;height:16.6px"></div><div class="c d" style="left:826.4px;top:684.68px;width:217.3px;height:16.6px"></div>
<div class="t a" style="top:684.78px">А964692</div><div class="t" style="left:102px;top:684.78px"><span>Шестигранник</span><span class="q2">  ст35 17</span></div><div class="t m" style="left:389.5px;width:58.3px;top:684.78px">шт</div><div class="t n" style="left:449.4px;width:63.9px;top:684.78px">100</div><div class="t n" style="left:517.4px;width:67.6px;top:684.78px">100</div><div class="t n" style="left:655px;width:81.5px;top:684.78px">200</div><div class="t n" style="left:740.6px;width:81.7px;top:684.78px">150</div>
<div class="c l" style="left:15.3px;top:702.71px;width:72.2px;height:18px"></div><div class="c l" style="left:89.2px;top:702.71px;width:298.6px;height:18px"></div><div class="c l" style="left:389.5px;top:702.71px;width:58.3px;height:18px"></div><div class="c l" style="left:449.4px;top:702.71px;width:66.4px;height:18px"></div><div class="c l" style="left:517.4px;top:702.71px;width:70.1px;height:18px"></div><div class="c l" style="left:589px;top:702.71px;width:63.2px;height:18px"></div><div class="c l" style="left:655px;top:702.71px;width:83.8px;height:18px"></div><div class="c l" style="left:740.6px;top:702.71px;width:84.2px;height:18px"></div><div class="c l" style="left:826.4px;top:702.71px;width:217.3px;height:18px"></div>
<div class="t a" style="top:702.81px">М964690</div><div class="t" style="left:102px;top:702.81px"><span>Шестигранник</span><span class="q2">  ст35 19</span></div><div class="t m" style="left:389.5px;width:58.3px;top:702.81px">шт</div><div class="t n" style="left:449.4px;width:63.9px;top:702.81px">100</div><div class="t n" style="left:517.4px;width:67.6px;top:702.81px">100</div><div class="t n" style="left:655px;width:81.5px;top:702.81px">200</div><div class="t n" style="left:740.6px;width:81.7px;top:702.81px">150</div>
<div class="abs" id="b1">Заказы</div><div class="abs" id="b2"></div>
</body></html>
